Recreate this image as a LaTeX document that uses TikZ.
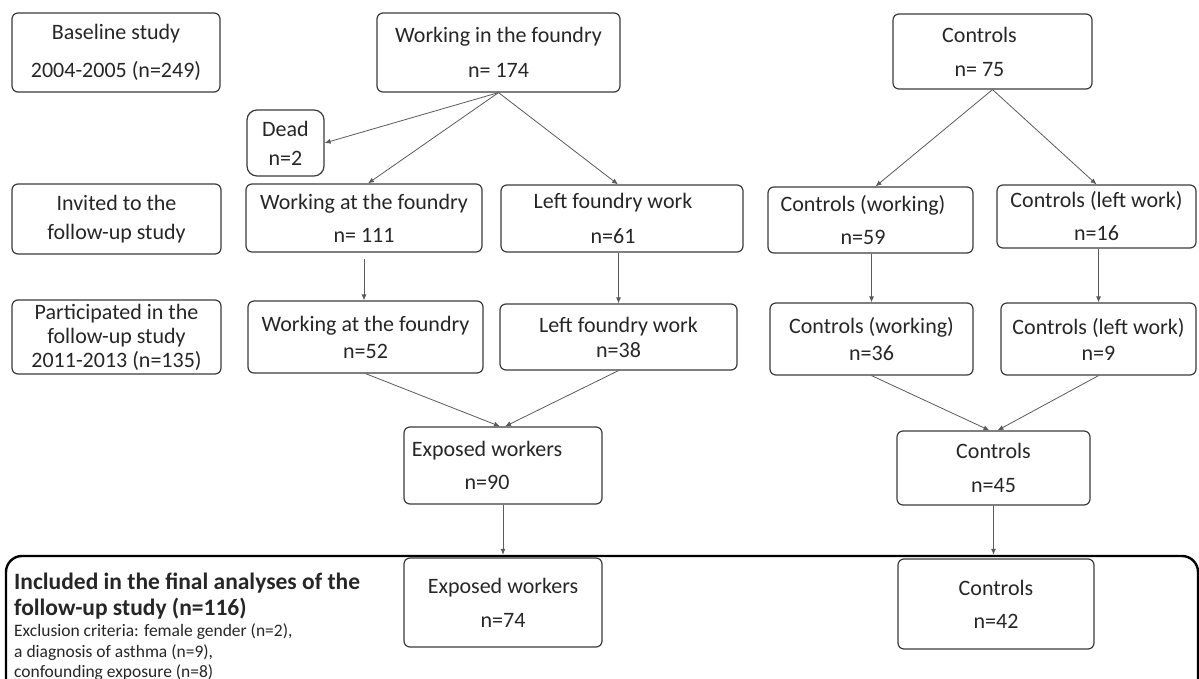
\documentclass[tikz,border=0pt]{standalone}
\usepackage{fontspec}
\setmainfont{Carlito}
\usetikzlibrary{arrows.meta}
\definecolor{boxline}{HTML}{3A3A3A}
\definecolor{arrline}{HTML}{5A5A5A}
\definecolor{txt}{HTML}{262626}
\begin{document}
\begin{tikzpicture}[x=1pt,y=-1pt,
  box/.style={draw=boxline, line width=1.2pt, rounded corners=6pt, align=center, inner sep=0pt, text=txt, font=\fontsize{22}{24}\selectfont},
  arr/.style={draw=arrline, line width=0.8pt, -{Latex[length=6pt,width=5pt]}},
  bigtxt/.style={anchor=base west, inner sep=0pt, text=txt, font=\fontsize{23.5}{26}\selectfont\bfseries},
  smalltxt/.style={anchor=base west, inner sep=0pt, text=txt, font=\fontsize{17.5}{20}\selectfont},
]
\useasboundingbox (0,0) rectangle (1199,679);
\clip (0,0) rectangle (1199,679);

\node[box, minimum width=208pt, minimum height=79pt] (base) at (116,52.5) {Baseline study\\[14pt]2004-2005 (n=249)};
\node[box, minimum width=243pt, minimum height=79pt] (work) at (498.5,52.5) {Working in the foundry\\[11pt]n= 174};
\node[box, minimum width=199pt, minimum height=75pt] (ctrl) at (992.5,51.5) {Controls\hspace*{26pt}\\[10pt]n= 75\hspace*{26pt}};
\node[box, rounded corners=10pt, minimum width=77pt, minimum height=66pt] (dead) at (285.5,143) {Dead\\[5pt]n=2};

\node[box, minimum width=209pt, minimum height=70pt] (invited) at (116.5,219) {Invited to the\\[5pt]follow-up study};
\node[box, minimum width=236pt, minimum height=68pt] (w111) at (364,218) {Working at the foundry\\[9pt]n= 111};
\node[box, minimum width=242pt, minimum height=67pt] (l61) at (622,218.5) {Left foundry work\hspace*{18pt}\\[11pt]n=61\hspace*{18pt}};
\node[box, minimum width=205pt, minimum height=66pt] (cw59) at (870.5,220) {Controls (working)\hspace*{15pt}\\[9pt]n=59\hspace*{15pt}};
\node[box, minimum width=199pt, minimum height=63pt] (cl16) at (1096.5,216.5) {Controls (left work)\\[9pt]n=16};

\node[box, minimum width=209pt, minimum height=74pt] (part) at (116.5,337) {Participated in the\\follow-up study\\2011-2013 (n=135)};
\node[box, minimum width=235pt, minimum height=72pt] (w52) at (365.5,337) {Working at the foundry\\[3pt]n=52};
\node[box, minimum width=237pt, minimum height=66pt] (l38) at (618.5,337) {Left foundry work\\[1pt]n=38};
\node[box, minimum width=203pt, minimum height=72pt] (cw36) at (871.5,339) {Controls (working)\\[3pt]n=36};
\node[box, minimum width=195pt, minimum height=72pt] (cl9) at (1098.5,339) {Controls (left work)\\[2pt]n=9};

\node[box, minimum width=198pt, minimum height=77pt] (e90) at (503,465.5) {Exposed workers\hspace*{32pt}\\[9pt]n=90\hspace*{32pt}};
\node[box, minimum width=193pt, minimum height=74pt] (c45) at (993.5,468) {Controls\\[10pt]n=45};

\node[draw=black, line width=2.4pt, rounded corners=16pt, minimum width=1192pt, minimum height=164pt, inner sep=0pt] (incl) at (602,638) {};
\node[box, minimum width=198pt, minimum height=89pt] (e74) at (503,602.5) {Exposed workers\\[10pt]n=74};
\node[box, minimum width=196pt, minimum height=90pt] (c42) at (996,604) {Controls\\[9pt]n=42};

\node[bigtxt] (t1) at (14,589) {Included in the final analyses of the};
\node[bigtxt] (t2) at (14,615) {follow-up study (n=116)};
\node[smalltxt] (t3) at (14,636) {Exclusion criteria: female gender (n=2),};
\node[smalltxt] (t4) at (14,657) {a diagnosis of asthma (n=9),};
\node[smalltxt] (t5) at (14,677) {confounding exposure (n=8)};

\draw[arr] (work.south) -- (dead.east);
\draw[arr] (work.south) -- ([xshift=4pt]w111.north);
\draw[arr] (work.south) -- ([xshift=-4pt]l61.north);
\draw[arr] (ctrl.south) -- ([xshift=5pt]cw59.north);
\draw[arr] (ctrl.south) -- (cl16.north);

\draw[arr] ([yshift=-6pt]w111.south) -- (w111.south |- w52.north);
\draw[arr] (l38.north |- l61.south) -- (l38.north);
\draw[arr] (cw36.north |- cw59.south) -- (cw36.north);
\draw[arr] (cl9.north |- cl16.south) -- (cl9.north);

\draw[arr] (w52.south) -- ([xshift=-3pt]e90.north);
\draw[arr] (l38.south) -- ([xshift=2pt]e90.north);
\draw[arr] (cw36.south) -- ([xshift=-4pt]c45.north);
\draw[arr] (cl9.south) -- ([xshift=4pt]c45.north);

\draw[arr] (e90.south) -- (e90.south |- incl.north);
\draw[arr] (c45.south) -- (c45.south |- incl.north);
\end{tikzpicture}
\end{document}
